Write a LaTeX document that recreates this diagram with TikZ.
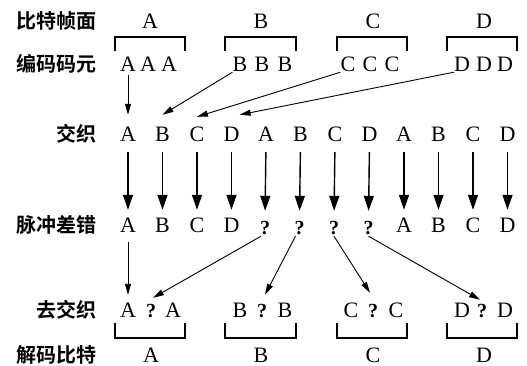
\documentclass[tikz,border=0pt]{standalone}
\usepackage{fontspec}
\setmainfont{Liberation Serif}
\newfontfamily\cjk{Noto Sans CJK SC}[BoldFont={Noto Sans CJK SC Bold}]
\usetikzlibrary{arrows.meta}

\tikzset{
  sym/.style={anchor=base,inner sep=0pt,text height=14pt,text depth=0pt,
    font=\fontsize{22}{24}\selectfont},
  qm/.style={sym,font=\bfseries\fontsize{20}{22}\selectfont},
  lbl/.style={anchor=base east,inner sep=0pt,font=\cjk\bfseries\fontsize{20}{24}\selectfont},
  link/.style={-{Triangle[length=11pt,width=6pt]},line width=0.9pt},
  drop/.style={-{Triangle[length=15pt,width=10pt]},line width=1.4pt,
    shorten <=10pt,shorten >=9pt},
  bracket/.style={line width=1.3pt},
}

\begin{document}
\begin{tikzpicture}[x=1pt,y=-1pt]
  \useasboundingbox (0,0) rectangle (527,366);
  % row titles
  \draw
    (97,29) node[lbl] (t0){比特帧面}
    (97,72) node[lbl] (t1){编码码元}
    (97,142) node[lbl] (t2){交织}
    (97,233) node[lbl] (t3){脉冲差错}
    (97,317) node[lbl] (t4){去交织}
    (97,362) node[lbl] (t5){解码比特};
  % frames and coded symbols
  \draw
    (150,29) node[sym] (fA){A}
    (261,29) node[sym] (fB){B}
    (373,29) node[sym] (fC){C}
    (484,29) node[sym] (fD){D}
    (128,72) node[sym] (c0){A}
    (148,72) node[sym] (c1){A}
    (169,72) node[sym] (c2){A}
    (240,72) node[sym] (c3){B}
    (262,72) node[sym] (c4){B}
    (285,72) node[sym] (c5){B}
    (348,72) node[sym] (c6){C}
    (370,72) node[sym] (c7){C}
    (392,72) node[sym] (c8){C}
    (462,72) node[sym] (c9){D}
    (484,72) node[sym] (c10){D}
    (505,72) node[sym] (c11){D};
  % interleaved stream
  \draw
    (128,142) node[sym] (i0){A}
    (162.5,142) node[sym] (i1){B}
    (197,142) node[sym] (i2){C}
    (231.5,142) node[sym] (i3){D}
    (266,142) node[sym] (i4){A}
    (300.5,142) node[sym] (i5){B}
    (335,142) node[sym] (i6){C}
    (369.5,142) node[sym] (i7){D}
    (404,142) node[sym] (i8){A}
    (438.5,142) node[sym] (i9){B}
    (473,142) node[sym] (i10){C}
    (507.5,142) node[sym] (i11){D};
  % burst hits four in a row
  \draw
    (128,233) node[sym] (e0){A}
    (162.5,233) node[sym] (e1){B}
    (197,233) node[sym] (e2){C}
    (231.5,233) node[sym] (e3){D}
    (265,234) node[qm] (e4){?}
    (299.5,234) node[qm] (e5){?}
    (334,234) node[qm] (e6){?}
    (368.5,234) node[qm] (e7){?}
    (404,233) node[sym] (e8){A}
    (438.5,233) node[sym] (e9){B}
    (473,233) node[sym] (e10){C}
    (507.5,233) node[sym] (e11){D};
  % de-interleaved and decoded
  \draw
    (128,317) node[sym] (d0){A}
    (151,317) node[qm] (d1){?}
    (173,317) node[sym] (d2){A}
    (240,317) node[sym] (d3){B}
    (262,317) node[qm] (d4){?}
    (285,317) node[sym] (d5){B}
    (351,317) node[sym] (d6){C}
    (373,317) node[qm] (d7){?}
    (396,317) node[sym] (d8){C}
    (462,317) node[sym] (d9){D}
    (482,317) node[qm] (d10){?}
    (505,317) node[sym] (d11){D}
    (151,362) node[sym] (bA){A}
    (261,362) node[sym] (bB){B}
    (373,362) node[sym] (bC){C}
    (484,362) node[sym] (bD){D};
  % brackets
  \draw[bracket] (115,51) -- (115,37) -- (185,37) -- (185,51);
  \draw[bracket] (225,51) -- (225,37) -- (296,37) -- (296,51);
  \draw[bracket] (337,51) -- (337,37) -- (407,37) -- (407,51);
  \draw[bracket] (447,51) -- (447,37) -- (517,37) -- (517,51);
  \draw[bracket] (115,323) -- (115,338) -- (185,338) -- (185,323);
  \draw[bracket] (225,323) -- (225,338) -- (296,338) -- (296,323);
  \draw[bracket] (337,323) -- (337,338) -- (407,338) -- (407,323);
  \draw[bracket] (447,323) -- (447,338) -- (517,338) -- (517,323);
  \begin{scope}[link]
    \draw ([yshift=-3pt]c0.south) to ([yshift=13pt]i0.north);
    \draw (c3.south west) to ([yshift=13pt]i1.north);
    \draw (c6.south west) to ([yshift=11pt]i2.north);
    \draw (c9.south west) to ([yshift=13pt]i3.north east);
    \draw ([yshift=-9pt]e0.south) to ([yshift=8pt]d0.north);
    \draw ([xshift=-4pt,yshift=-2pt]e4.south) to ([xshift=2pt,yshift=5pt]d1.north);
    \draw ([xshift=-4pt,yshift=-2pt]e5.south) to ([xshift=3pt,yshift=8pt]d4.north);
    \draw ([yshift=-2pt]e6.south) to ([xshift=-3pt,yshift=10pt]d7.north);
    \draw ([yshift=-2pt]e7.south) to ([xshift=-2pt,yshift=3pt]d10.north);
  \end{scope}
  \begin{scope}[drop]
    \draw (i0.south) to (e0.north);
    \draw (i1.south) to (e1.north);
    \draw (i2.south) to (e2.north);
    \draw (i3.south) to (e3.north);
    \draw (i4.south) to (e4.north);
    \draw (i5.south) to (e5.north);
    \draw (i6.south) to (e6.north);
    \draw (i7.south) to (e7.north);
    \draw (i8.south) to (e8.north);
    \draw (i9.south) to (e9.north);
    \draw (i10.south) to (e10.north);
    \draw (i11.south) to (e11.north);
  \end{scope}
\end{tikzpicture}
\end{document}
